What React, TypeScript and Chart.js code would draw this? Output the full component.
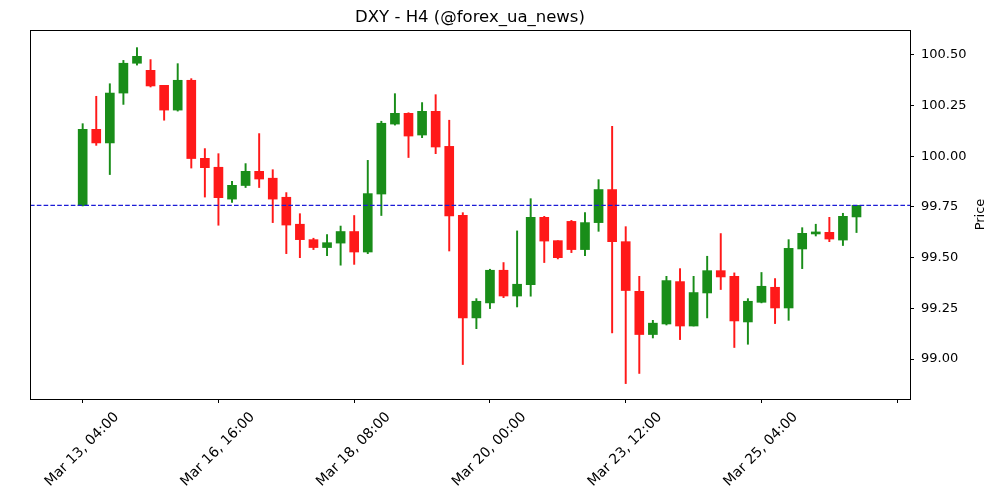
import React, { useEffect, useRef } from "react";
import { Chart, registerables } from "chart.js";

Chart.register(...registerables);

const chartTitle = "DXY - H4 (@forex_ua_news)";
const yAxisTitle = "Price";

const opens = [
  99.757, 100.133, 100.066, 100.312, 100.459, 100.424, 100.35, 100.228, 100.375, 99.99,
  99.946, 99.789, 99.856, 99.926, 99.892, 99.798, 99.665, 99.589, 99.55, 99.572,
  99.629, 99.528, 99.814, 100.159, 100.212, 100.105, 100.222, 100.049, 99.709, 99.203,
  99.277, 99.438, 99.311, 99.367, 99.699, 99.584, 99.679, 99.54, 99.673, 99.836,
  99.579, 99.334, 99.121, 99.173, 99.382, 99.163, 99.326, 99.436, 99.408, 99.183,
  99.28, 99.354, 99.252, 99.543, 99.617, 99.625, 99.587, 99.701,
];
const highs = [
  100.161, 100.296, 100.358, 100.473, 100.536, 100.477, 100.35, 100.457, 100.383, 100.038,
  100.013, 99.877, 99.964, 100.112, 99.934, 99.821, 99.717, 99.596, 99.614, 99.656,
  99.708, 99.98, 100.173, 100.309, 100.215, 100.265, 100.304, 100.178, 99.722, 99.298,
  99.443, 99.476, 99.632, 99.791, 99.704, 99.584, 99.684, 99.722, 99.885, 100.148,
  99.653, 99.408, 99.191, 99.408, 99.446, 99.408, 99.507, 99.619, 99.425, 99.298,
  99.427, 99.397, 99.589, 99.648, 99.665, 99.699, 99.719, 99.758,
];
const lows = [
  99.755, 100.054, 99.91, 100.256, 100.45, 100.342, 100.178, 100.223, 99.942, 99.799,
  99.66, 99.773, 99.846, 99.846, 99.673, 99.52, 99.5, 99.54, 99.51, 99.463,
  99.467, 99.52, 99.708, 100.154, 99.994, 100.092, 100.013, 99.533, 98.973, 99.15,
  99.249, 99.303, 99.257, 99.31, 99.476, 99.494, 99.525, 99.51, 99.63, 99.129,
  98.879, 98.929, 99.104, 99.168, 99.096, 99.163, 99.203, 99.343, 99.057, 99.073,
  99.277, 99.175, 99.191, 99.446, 99.607, 99.579, 99.56, 99.624,
];
const closes = [
  100.133, 100.066, 100.312, 100.459, 100.493, 100.347, 100.228, 100.375, 99.989, 99.944,
  99.796, 99.857, 99.926, 99.888, 99.789, 99.661, 99.589, 99.55, 99.574, 99.629,
  99.528, 99.816, 100.163, 100.212, 100.1, 100.222, 100.046, 99.706, 99.203, 99.285,
  99.438, 99.311, 99.369, 99.699, 99.582, 99.5, 99.54, 99.673, 99.836, 99.579,
  99.338, 99.121, 99.177, 99.387, 99.163, 99.328, 99.436, 99.405, 99.188, 99.285,
  99.359, 99.252, 99.546, 99.62, 99.627, 99.592, 99.704, 99.758,
];

const xTickPositions = [0, 10, 20, 30, 40, 50, 60];
const xTickLabels = [
  "Mar 13, 04:00",
  "Mar 16, 16:00",
  "Mar 18, 08:00",
  "Mar 20, 00:00",
  "Mar 23, 12:00",
  "Mar 25, 04:00",
  "",
];
const yTickValues = [99.0, 99.25, 99.5, 99.75, 100.0, 100.25, 100.5];

const UP_COLOR = "#198d19";
const DOWN_COLOR = "#ff1919";
const FONT = "'DejaVu Sans', sans-serif";

export default function App() {
  const canvasRef = useRef<HTMLCanvasElement | null>(null);

  useEffect(() => {
    if (!canvasRef.current) return;
    const idx = opens.map((_, i) => i);
    const colors = idx.map((i) => (closes[i] >= opens[i] ? UP_COLOR : DOWN_COLOR));
    const lastClose = closes[closes.length - 1];

    const overlay = {
      id: "overlay",
      afterDatasetsDraw(chart: any) {
        const { ctx, chartArea } = chart;
        const y = chart.scales.y.getPixelForValue(lastClose);
        ctx.save();
        ctx.beginPath();
        ctx.rect(chartArea.left, chartArea.top, chartArea.right - chartArea.left, chartArea.bottom - chartArea.top);
        ctx.clip();
        ctx.strokeStyle = "#1c1cd6";
        ctx.lineWidth = 1.3;
        ctx.setLineDash([4.6, 2.2]);
        ctx.beginPath();
        ctx.moveTo(chartArea.left, y);
        ctx.lineTo(chartArea.right, y);
        ctx.stroke();
        ctx.restore();
      },
      afterDraw(chart: any) {
        const { ctx, chartArea } = chart;
        ctx.save();
        ctx.strokeStyle = "#000";
        ctx.lineWidth = 1;
        ctx.strokeRect(
          chartArea.left + 0.5,
          chartArea.top + 0.5,
          chartArea.right - chartArea.left,
          chartArea.bottom - chartArea.top
        );
        ctx.fillStyle = "#000";
        ctx.font = `16.5px ${FONT}`;
        ctx.textAlign = "center";
        ctx.textBaseline = "alphabetic";
        ctx.fillText(chartTitle, (chartArea.left + chartArea.right) / 2, 21.7);
        ctx.font = `13px ${FONT}`;
        ctx.translate(981, (chartArea.top + chartArea.bottom) / 2);
        ctx.rotate(-Math.PI / 2);
        ctx.textBaseline = "middle";
        ctx.fillText(yAxisTitle, 0, 0);
        ctx.restore();
      },
    };

    const chart = new Chart(canvasRef.current, {
      type: "bar",
      data: {
        datasets: [
          {
            data: idx.map((i) => ({ x: i, y: [lows[i], highs[i]] })),
            backgroundColor: colors,
            borderWidth: 0,
            barThickness: 1.3,
            grouped: false,
            order: 2,
          } as any,
          {
            data: idx.map((i) => ({ x: i, y: [opens[i], closes[i]] })),
            backgroundColor: colors,
            borderWidth: 0,
            barThickness: 9,
            minBarLength: 1,
            grouped: false,
            order: 1,
          } as any,
        ],
      },
      options: {
        responsive: false,
        animation: false,
        layout: { padding: { left: 30, top: 30, right: 0, bottom: 0 } },
        plugins: {
          legend: { display: false },
          tooltip: { enabled: false },
          title: { display: false },
        },
        scales: {
          x: {
            type: "linear",
            offset: false,
            min: -3.88,
            max: 60.94,
            afterBuildTicks: (s: any) => {
              s.ticks = xTickPositions.map((v) => ({ value: v }));
            },
            afterFit: (s: any) => {
              s.height = 101;
            },
            grid: {
              display: true,
              offset: false,
              drawOnChartArea: false,
              drawTicks: true,
              tickLength: 4,
              color: "#000",
            },
            border: { display: false },
            ticks: {
              autoSkip: false,
              maxRotation: 45,
              minRotation: 45,
              labelOffset: 34,
              padding: 6,
              color: "#000",
              font: { family: FONT, size: 14 },
              callback: (_v: any, i: number) => xTickLabels[i] ?? "",
            },
          },
          y: {
            position: "right",
            min: 98.803,
            max: 100.623,
            afterBuildTicks: (s: any) => {
              s.ticks = yTickValues.map((v) => ({ value: v }));
            },
            afterFit: (s: any) => {
              s.width = 90;
            },
            grid: { display: true, drawOnChartArea: false, drawTicks: true, tickLength: 4, color: "#000" },
            border: { display: false },
            ticks: {
              padding: 7,
              color: "#000",
              font: { family: FONT, size: 13 },
              callback: (v: any) => Number(v).toFixed(2),
            },
          },
        },
      } as any,
      plugins: [overlay],
    });
    return () => chart.destroy();
  }, []);

  return (
    <div style={{ position: "fixed", left: 0, top: 0, width: 1000, height: 500, background: "#fff" }}>
      <canvas ref={canvasRef} width={1000} height={500} style={{ display: "block" }} />
    </div>
  );
}
